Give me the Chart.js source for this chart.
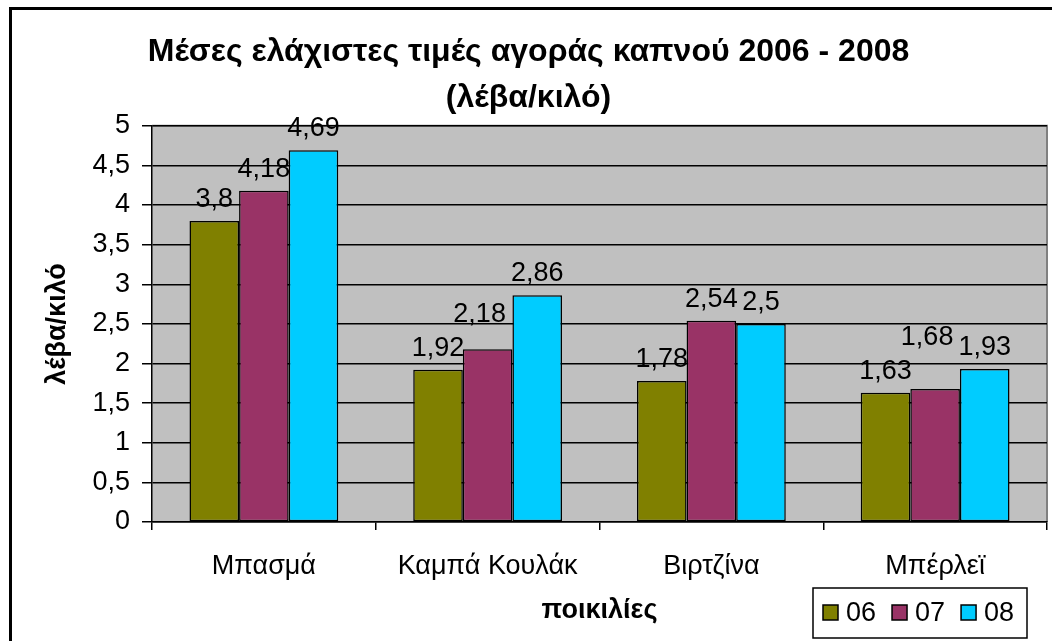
<!DOCTYPE html>
<html>
<head>
<meta charset="utf-8">
<script src="https://cdn.jsdelivr.net/npm/chart.js@4/dist/chart.umd.min.js"></script>
<style>
  html, body { margin: 0; padding: 0; background: #fff; }
  #wrap { width: 1052px; height: 641px; }
</style>
</head>
<body>
<div id="wrap"><canvas id="tobaccoChart" width="1052" height="641"></canvas></div>
<script>
const categories = ['Μπασμά', 'Καμπά Κουλάκ', 'Βιρτζίνα', 'Μπέρλεϊ'];
const seriesNames = ['06', '07', '08'];
const values06 = [3.8, 1.92, 1.78, 1.63];
const values07 = [4.18, 2.18, 2.54, 1.68];
const values08 = [4.69, 2.86, 2.5, 1.93];
const seriesColors = ['#808000', '#993366', '#00CCFF'];
const titleLines = ['Μέσες ελάχιστες τιμές αγοράς καπνού 2006 - 2008', '(λέβα/κιλό)'];

const FONT = '"Liberation Sans", Arial, sans-serif';
const toComma = (v) => String(v).replace('.', ',');

// grey plot area + frame around the whole picture
const backdrop = {
    id: 'backdrop',
    beforeDraw(chart) {
        const { ctx, chartArea: a } = chart;
        ctx.save();
        ctx.fillStyle = '#C0C0C0';
        ctx.fillRect(a.left, a.top, a.right - a.left, a.bottom - a.top);
        ctx.strokeStyle = '#808080';
        ctx.lineWidth = 2;
        ctx.beginPath();
        ctx.moveTo(a.left, a.top);
        ctx.lineTo(a.right, a.top);
        ctx.lineTo(a.right, a.bottom);
        ctx.stroke();
        ctx.restore();
    },
    afterDraw(chart) {
        const { ctx } = chart;
        ctx.save();
        ctx.strokeStyle = '#000';
        ctx.lineWidth = 3;
        ctx.strokeRect(10.5, 8.5, 1060, 660);
        ctx.restore();
    }
};

// value labels above the bars, lifted (and nudged left) when they bump into the neighbour
const barLabels = {
    id: 'barLabels',
    afterDatasetsDraw(chart) {
        const { ctx } = chart;
        const gap = 8, textH = 24;
        ctx.save();
        ctx.font = '27px ' + FONT;
        ctx.fillStyle = '#000';
        ctx.textAlign = 'center';
        ctx.textBaseline = 'bottom';
        chart.data.labels.forEach((_, j) => {
            let prev = null;
            chart.data.datasets.forEach((ds, i) => {
                const bar = chart.getDatasetMeta(i).data[j];
                const text = toComma(ds.data[j]);
                const w = ctx.measureText(text).width;
                let cx = bar.x;
                let bottom = bar.y - gap;
                const hits = prev && (cx - w / 2) < prev.right + 3 &&
                    bottom > prev.top && bottom - textH < prev.bottom;
                if (hits) {
                    bottom = prev.top - 10;
                    cx -= 8;
                }
                ctx.fillText(text, cx, bottom);
                prev = { right: cx + w / 2, bottom: bottom, top: bottom - textH };
            });
        });
        ctx.restore();
    }
};

// boxed legend, bottom right
const boxLegend = {
    id: 'boxLegend',
    afterDraw(chart) {
        const { ctx } = chart;
        const box = { x: 813, y: 588, w: 214, h: 50 };
        ctx.save();
        ctx.fillStyle = '#fff';
        ctx.fillRect(box.x, box.y, box.w, box.h);
        ctx.strokeStyle = '#000';
        ctx.lineWidth = 1.5;
        ctx.strokeRect(box.x, box.y, box.w, box.h);
        ctx.font = '27px ' + FONT;
        ctx.textBaseline = 'middle';
        let x = box.x + 10;
        const cy = box.y + box.h / 2;
        chart.data.datasets.forEach((ds) => {
            ctx.fillStyle = ds.backgroundColor;
            ctx.fillRect(x, cy - 8, 15, 15);
            ctx.strokeStyle = '#000';
            ctx.lineWidth = 1.5;
            ctx.strokeRect(x, cy - 8, 15, 15);
            ctx.fillStyle = '#000';
            ctx.fillText(ds.label, x + 23, cy + 1);
            x += 23 + ctx.measureText(ds.label).width + 16;
        });
        ctx.restore();
    }
};

const ctx = document.getElementById('tobaccoChart');

new Chart(ctx, {
    type: 'bar',
    data: {
        labels: categories,
        datasets: seriesNames.map((name, i) => ({
            label: name,
            data: [values06, values07, values08][i],
            backgroundColor: seriesColors[i],
            borderColor: '#000',
            borderWidth: 1.5,
            borderSkipped: false,
            barPercentage: 1.0,
            categoryPercentage: 0.665
        }))
    },
    options: {
        responsive: false,
        animation: false,
        devicePixelRatio: 1,
        layout: { padding: { left: 10, right: 5, top: 10, bottom: 0 } },
        plugins: {
            legend: { display: false },
            tooltip: { enabled: false },
            title: {
                display: true,
                text: titleLines,
                color: '#000',
                font: { family: FONT, size: 32, weight: 'bold', lineHeight: 1.45 },
                padding: { top: 19, bottom: 4 }
            }
        },
        scales: {
            x: {
                offset: true,
                grid: {
                    offset: true,
                    drawOnChartArea: false,
                    drawTicks: true,
                    tickLength: 8,
                    color: '#000',
                    lineWidth: 1.5
                },
                border: { color: '#000', width: 1.5 },
                ticks: {
                    color: '#000',
                    font: { family: FONT, size: 27 },
                    padding: 20,
                    maxRotation: 0
                },
                title: {
                    display: true,
                    text: 'ποικιλίες',
                    color: '#000',
                    font: { family: FONT, size: 27, weight: 'bold' },
                    padding: { top: 0, bottom: 14 }
                },
                afterFit(scale) { scale.height = 119; }
            },
            y: {
                min: 0,
                max: 5,
                grid: {
                    color: '#000',
                    lineWidth: 1.5,
                    tickLength: 10
                },
                border: { color: '#000', width: 1.5 },
                ticks: {
                    stepSize: 0.5,
                    color: '#000',
                    font: { family: FONT, size: 27 },
                    padding: 12,
                    callback: (v) => toComma(v)
                },
                title: {
                    display: true,
                    text: 'λέβα/κιλό',
                    color: '#000',
                    font: { family: FONT, size: 27, weight: 'bold' },
                    padding: { top: 31, bottom: 0 }
                },
                afterFit(scale) { scale.width = 142; }
            }
        }
    },
    plugins: [backdrop, barLabels, boxLegend]
});
</script>
</body>
</html>
